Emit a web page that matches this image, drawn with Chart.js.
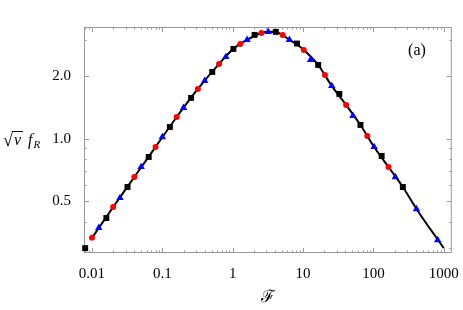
<!DOCTYPE html>
<html>
<head>
<meta charset="utf-8">
<script src="https://cdn.jsdelivr.net/npm/chart.js@4.4.1/dist/chart.umd.min.js"></script>
<style>
  html, body { margin: 0; padding: 0; background: #fff; }
  #wrap { width: 463px; height: 310px; }
</style>
</head>
<body>
<div id="wrap"><canvas id="chart"></canvas></div>
<script>
// values (log-log axes)
const squareF = [0.008, 0.016, 0.032, 0.064, 0.128, 0.256, 0.512, 1.024, 2.048, 4.096, 8.19, 16.4, 32.8, 65.5, 131, 262];
const squareY = [0.298, 0.416, 0.587, 0.819, 1.142, 1.576, 2.102, 2.714, 3.17, 3.277, 2.88, 2.272, 1.647, 1.168, 0.828, 0.587];

const circleF = [0.01, 0.02, 0.04, 0.08, 0.16, 0.32, 0.64, 1.28, 2.56, 5.12, 10.24, 20.48, 40.96, 81.92, 163.84];
const circleY = [0.334, 0.470, 0.656, 0.915, 1.276, 1.741, 2.297, 2.868, 3.24, 3.17, 2.684, 2.034, 1.458, 1.034, 0.733];

const triangleF = [0.0125, 0.025, 0.05, 0.1, 0.2, 0.4, 0.8, 1.6, 3.2, 6.4, 12.8, 25.6, 51.2, 102.4, 204.8, 409.6, 819.2];
const triangleY = [0.373, 0.520, 0.733, 1.022, 1.411, 1.903, 2.483, 3.0, 3.277, 3.0, 2.402, 1.80, 1.291, 0.915, 0.656, 0.460, 0.326];

const lineF = [0.01, 0.02, 0.04, 0.08, 0.16, 0.32, 0.64, 1.0, 1.6, 2.56, 3.2, 4.1, 5.12, 6.4, 8.2, 10.24, 16.4, 25.6, 40.96, 65.5, 102.4, 163.84, 262, 409.6, 1000];
const lineY = [0.334, 0.470, 0.656, 0.915, 1.276, 1.741, 2.297, 2.70, 3.0, 3.24, 3.28, 3.277, 3.17, 3.0, 2.85, 2.684, 2.272, 1.80, 1.458, 1.168, 0.915, 0.733, 0.587, 0.460, 0.298];

const xTicks = [0.01, 0.1, 1, 10, 100, 1000];
const yTicks = [0.5, 1, 2];
const yMinorTicks = [0.3, 0.4, 0.6, 0.7, 0.8, 0.9, 3];

const serif = "'Liberation Serif', 'DejaVu Serif', serif";

function pts(xs, ys) {
    return xs.map((x, i) => ({ x: x, y: ys[i] }));
}

// frame with inward ticks, like the original plot
const frameTicks = {
    id: 'frameTicks',
    beforeDatasetsDraw(chart) {
        const { ctx, chartArea: a, scales } = chart;
        const xs = scales.x, ys = scales.y;
        ctx.save();
        ctx.strokeStyle = '#999';
        ctx.lineWidth = 1;
        ctx.strokeRect(a.left + 0.5, a.top + 0.5, a.right - a.left - 1, a.bottom - a.top - 1);

        ctx.beginPath();
        // x ticks
        for (let d = -3; d <= 3; d++) {
            for (let m = 1; m <= 9; m++) {
                const v = m * Math.pow(10, d);
                if (v < xs.min || v > xs.max) continue;
                const px = Math.round(xs.getPixelForValue(v)) + 0.5;
                const len = m === 1 ? 5 : 2.5;
                ctx.moveTo(px, a.bottom); ctx.lineTo(px, a.bottom - len);
                ctx.moveTo(px, a.top); ctx.lineTo(px, a.top + len);
            }
        }
        // y ticks
        yTicks.concat(yMinorTicks).forEach(v => {
            const py = Math.round(ys.getPixelForValue(v)) + 0.5;
            const len = yTicks.includes(v) ? 5 : 2.5;
            ctx.moveTo(a.left, py); ctx.lineTo(a.left + len, py);
            ctx.moveTo(a.right, py); ctx.lineTo(a.right - len, py);
        });
        ctx.stroke();
        ctx.restore();
    },
    afterDraw(chart) {
        const { ctx } = chart;
        ctx.save();
        ctx.fillStyle = '#000';
        ctx.textBaseline = 'alphabetic';
        // panel tag
        ctx.font = '16px ' + serif;
        ctx.textAlign = 'center';
        ctx.fillText('(a)', 417, 55);

        // y title: sqrt(v) f_R
        ctx.textAlign = 'left';
        const base = 145;
        let x = 3;
        ctx.font = '18px ' + serif;
        ctx.fillText('\u221A', x, base + 1);
        x += ctx.measureText('\u221A').width;
        ctx.font = 'italic 16px ' + serif;
        const vw = ctx.measureText('v').width;
        ctx.fillText('v', x + 1, base);
        ctx.fillRect(x - 1, base - 14, vw + 4, 1);
        x += vw + 8;
        ctx.fillText('f', x, base);
        x += ctx.measureText('f').width + 1;
        ctx.font = 'italic 11px ' + serif;
        ctx.fillText('R', x, base + 3);
        ctx.restore();
    }
};

const ctx = document.getElementById('chart').getContext('2d');
const chart = new Chart(ctx, {
    type: 'scatter',
    data: {
        datasets: [
            {
                label: 'curve',
                data: pts(lineF, lineY),
                showLine: true,
                borderColor: '#000',
                borderWidth: 2,
                pointRadius: 0,
                cubicInterpolationMode: 'monotone',
                order: 4
            },
            {
                label: 'squares',
                data: pts(squareF, squareY),
                pointStyle: 'rect',
                pointRadius: 4.2,
                backgroundColor: '#000',
                borderColor: '#000',
                borderWidth: 0,
                clip: false,
                order: 1
            },
            {
                label: 'circles',
                data: pts(circleF, circleY),
                pointStyle: 'circle',
                pointRadius: 3,
                backgroundColor: '#ff0000',
                borderColor: '#ff0000',
                borderWidth: 0,
                clip: false,
                order: 2
            },
            {
                label: 'triangles',
                data: pts(triangleF, triangleY),
                pointStyle: 'triangle',
                pointRadius: 4.3,
                backgroundColor: '#0000ff',
                borderColor: '#0000ff',
                borderWidth: 0,
                clip: false,
                order: 3
            }
        ]
    },
    options: {
        responsive: true,
        maintainAspectRatio: false,
        animation: false,
        layout: { padding: { left: 0, right: 11, top: 27, bottom: 0 } },
        plugins: {
            legend: { display: false },
            tooltip: { enabled: false }
        },
        scales: {
            x: {
                type: 'logarithmic',
                min: 0.0077,
                max: 1300,
                grid: { display: false },
                border: { display: false },
                afterBuildTicks: scale => { scale.ticks = xTicks.map(v => ({ value: v })); },
                afterFit: scale => { scale.height = 57; },
                ticks: {
                    color: '#000',
                    padding: 4,
                    maxRotation: 0,
                    autoSkip: false,
                    font: { family: serif, size: 15 },
                    callback: value => String(value)
                },
                title: {
                    display: true,
                    text: '\u2131',
                    color: '#000',
                    font: { family: serif, size: 17 },
                    padding: { top: 0, bottom: 2 }
                }
            },
            y: {
                type: 'logarithmic',
                min: 0.2824,
                max: 3.46,
                grid: { display: false },
                border: { display: false },
                afterBuildTicks: scale => { scale.ticks = yTicks.map(v => ({ value: v })); },
                afterFit: scale => { scale.width = 84; },
                ticks: {
                    color: '#000',
                    padding: 5,
                    autoSkip: false,
                    font: { family: serif, size: 15 },
                    callback: value => Number(value).toFixed(1)
                }
            }
        }
    },
    plugins: [frameTicks]
});
</script>
</body>
</html>
